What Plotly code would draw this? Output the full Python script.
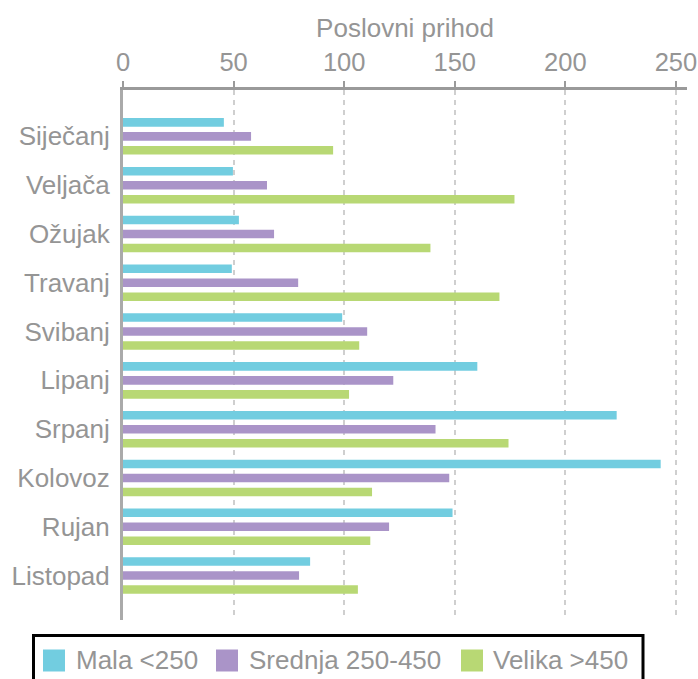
import plotly.graph_objects as go

months = ["Siječanj", "Veljača", "Ožujak", "Travanj", "Svibanj",
          "Lipanj", "Srpanj", "Kolovoz", "Rujan", "Listopad"]
mala = [45.6, 49.7, 52.4, 49.2, 99.1, 160.2, 223.2, 243.1, 149.0, 84.6]
srednja = [57.9, 65.1, 68.3, 79.2, 110.4, 122.2, 141.3, 147.5, 120.3, 79.6]
velika = [95.0, 177.0, 139.0, 170.2, 106.8, 102.2, 174.3, 112.6, 111.8, 106.2]

series_names = ["Mala <250", "Srednja 250-450", "Velika >450"]
series_values = [mala, srednja, velika]
series_colors = ["#72CDE0", "#AA94C8", "#B8D874"]
x_ticks = [0, 50, 100, 150, 200, 250]

FONT = "Liberation Sans"
GREY = "#959595"

W, H = 698, 679
PLOT_L, PLOT_R, PLOT_T, PLOT_B = 123, 687, 90, 620   # page pixels
ML, MT = PLOT_L, PLOT_T
MR, MB = W - PLOT_R, H - PLOT_B
PW, PH = PLOT_R - PLOT_L, PLOT_B - PLOT_T


def px(xp):
    return (xp - PLOT_L) / PW


def py(yp):
    return (PLOT_B - yp) / PH


fig = go.Figure()
for name, vals, color in zip(series_names, series_values, series_colors):
    fig.add_trace(go.Bar(
        y=months, x=vals, name=name, orientation="h",
        marker=dict(color=color, line=dict(width=0)),
    ))

# Legend drawn as a boxed row below the plot (as in the reference)
shapes = [dict(type="rect", xref="paper", yref="paper",
               x0=px(33.5), x1=px(643), y0=py(635.5), y1=py(720),
               line=dict(color="black", width=3), fillcolor="rgba(0,0,0,0)",
               layer="above")]
annotations = []
square_left = [43, 216, 461]
text_left = [76, 248.7, 493.3]
for name, color, sl, tl in zip(series_names, series_colors, square_left, text_left):
    shapes.append(dict(type="rect", xref="paper", yref="paper",
                       x0=px(sl), x1=px(sl + 22), y0=py(649.5), y1=py(671.5),
                       line=dict(width=0), fillcolor=color, layer="above"))
    annotations.append(dict(xref="paper", yref="paper", x=px(tl - 1), y=py(660),
                            xanchor="left", yanchor="middle", showarrow=False,
                            text=name, borderpad=0,
                            font=dict(family=FONT, size=26, color=GREY)))

fig.update_layout(
    width=W, height=H,
    margin=dict(l=ML, r=MR, t=MT, b=MB, autoexpand=False),
    paper_bgcolor="white", plot_bgcolor="white",
    barmode="group", bargap=0.14, bargroupgap=0.39,
    font=dict(family=FONT, size=26, color=GREY),
    showlegend=False,
    shapes=shapes, annotations=annotations,
    xaxis=dict(
        side="top", range=[0, 255], automargin=False,
        tickvals=x_ticks, ticktext=[str(v) for v in x_ticks],
        ticklabeloverflow="allow",
        showline=True, linecolor="#9a9a9a", linewidth=3,
        ticks="outside", ticklen=6, tickcolor="#9a9a9a", tickwidth=2,
        showgrid=True, gridcolor="#cfcfcf", gridwidth=1.5, griddash="5px,5px",
        zeroline=False,
        title=dict(text="Poslovni prihod", standoff=3,
                   font=dict(family=FONT, size=26, color=GREY)),
        tickfont=dict(family=FONT, size=25.5, color=GREY),
    ),
    yaxis=dict(
        type="category", categoryorder="array", categoryarray=months,
        range=[9.91, -0.95], automargin=False,
        showline=True, linecolor="#aaaaaa", linewidth=3,
        ticks="", showgrid=False, zeroline=False,
        ticklabelstandoff=5,
        tickfont=dict(family=FONT, size=26, color=GREY),
    ),
)

# remove the browser's default 8px body margin so the figure fills the window
fig.write_html("out.html",
               config={"displayModeBar": False},
               post_script="document.body.style.margin='0px';"
                           "document.body.style.overflow='hidden';")
